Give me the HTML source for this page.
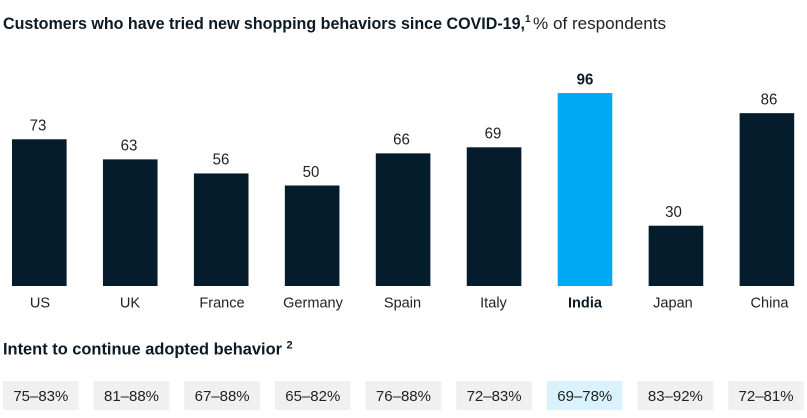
<!DOCTYPE html>
<html lang="en">
<head>
<meta charset="utf-8">
<title>Customers who have tried new shopping behaviors since COVID-19</title>
<style>
html,body{margin:0;padding:0;background:#fff;width:807px;height:418px;overflow:hidden}
svg{display:block}
text{font-family:"Liberation Sans",sans-serif;fill:#222}
.b{font-weight:bold;fill:#0b1a24}
</style>
</head>
<body>
<svg id="chart" xmlns="http://www.w3.org/2000/svg" width="807" height="418" viewBox="0 0 807 418">
<text x="3" y="29" font-size="17" class="b" textLength="522" lengthAdjust="spacingAndGlyphs">Customers who have tried new shopping behaviors since COVID-19,</text>
<text x="525" y="22" font-size="10" class="b">1</text>
<text x="533" y="29" font-size="17" textLength="133" lengthAdjust="spacingAndGlyphs">% of respondents</text>
<text x="3" y="354.6" font-size="16.5" class="b" textLength="279" lengthAdjust="spacingAndGlyphs">Intent to continue adopted behavior</text>
<text x="286.5" y="348.5" font-size="11" class="b">2</text>
<g id="bars"></g>
<g id="pills"></g>
</svg>
<script>
const categories = ["US","UK","France","Germany","Spain","Italy","India","Japan","China"];
const tried = [73,63,56,50,66,69,96,30,86];
const intentRanges = ["75–83%","81–88%","67–88%","65–82%","76–88%","72–83%","69–78%","83–92%","72–81%"];
const highlighted = "India";

const NS = "http://www.w3.org/2000/svg";
const baseY = 286, unit = 2.01, barW = 54.6, barX0 = 12, step = 90.95;
const pillX0 = 3, pillW = 75.7, pillY = 381, pillH = 29, pillStep = 90.65;
const labelNudge = {US:.7, UK:-.25, France:.8, Germany:.85, Spain:-.6, Italy:-.55, India:0, Japan:-3, China:2.6};
const valueNudge = {US:-1.3, UK:-1.25, France:-.2, Germany:-1.15, Spain:-1.6, Italy:-1, India:0, Japan:-2.5, China:2.1};
const xScale = i => barX0 + i * step;
const yScale = v => baseY - v * unit;
const barsG = document.getElementById("bars");
const pillsG = document.getElementById("pills");

function mk(tag, parent, attrs, txt) {
  const el = document.createElementNS(NS, tag);
  for (const k in attrs) el.setAttribute(k, attrs[k]);
  if (txt !== undefined) el.textContent = txt;
  parent.appendChild(el);
  return el;
}
function squeeze(el, factor) {
  el.setAttribute("textLength", (el.getComputedTextLength() * factor).toFixed(2));
  el.setAttribute("lengthAdjust", "spacingAndGlyphs");
}

categories.forEach((c, i) => {
  const hi = c === highlighted;
  const x = xScale(i), y = yScale(tried[i]), cx = x + barW / 2;
  const slug = c.toLowerCase();

  const bar = mk("rect", barsG, {x: x, y: y, width: barW, height: baseY - y, fill: hi ? "#00a9f4" : "#051c2c"});
  
  

  const val = mk("text", barsG, {x: cx + valueNudge[c], y: y - 8.7, "text-anchor": "middle", "font-size": 15.5, class: hi ? "b" : ""}, tried[i]);
  
  
  squeeze(val, 0.97);

  const lab = mk("text", barsG, {x: cx + labelNudge[c], y: 307.6, "text-anchor": "middle", "font-size": 15, class: hi ? "b" : ""}, c);
  
  
  squeeze(lab, 0.97);

  const px = pillX0 + i * pillStep;
  const pill = mk("rect", pillsG, {x: px, y: pillY, width: pillW, height: pillH, fill: hi ? "#d9f2fc" : "#f0f0f0"});
  
  

  const pt = mk("text", pillsG, {x: px + pillW / 2, y: 401, "text-anchor": "middle", "font-size": 14.5, textLength: 55, lengthAdjust: "spacingAndGlyphs"}, intentRanges[i]);
  
  
});
</script>
</body>
</html>
